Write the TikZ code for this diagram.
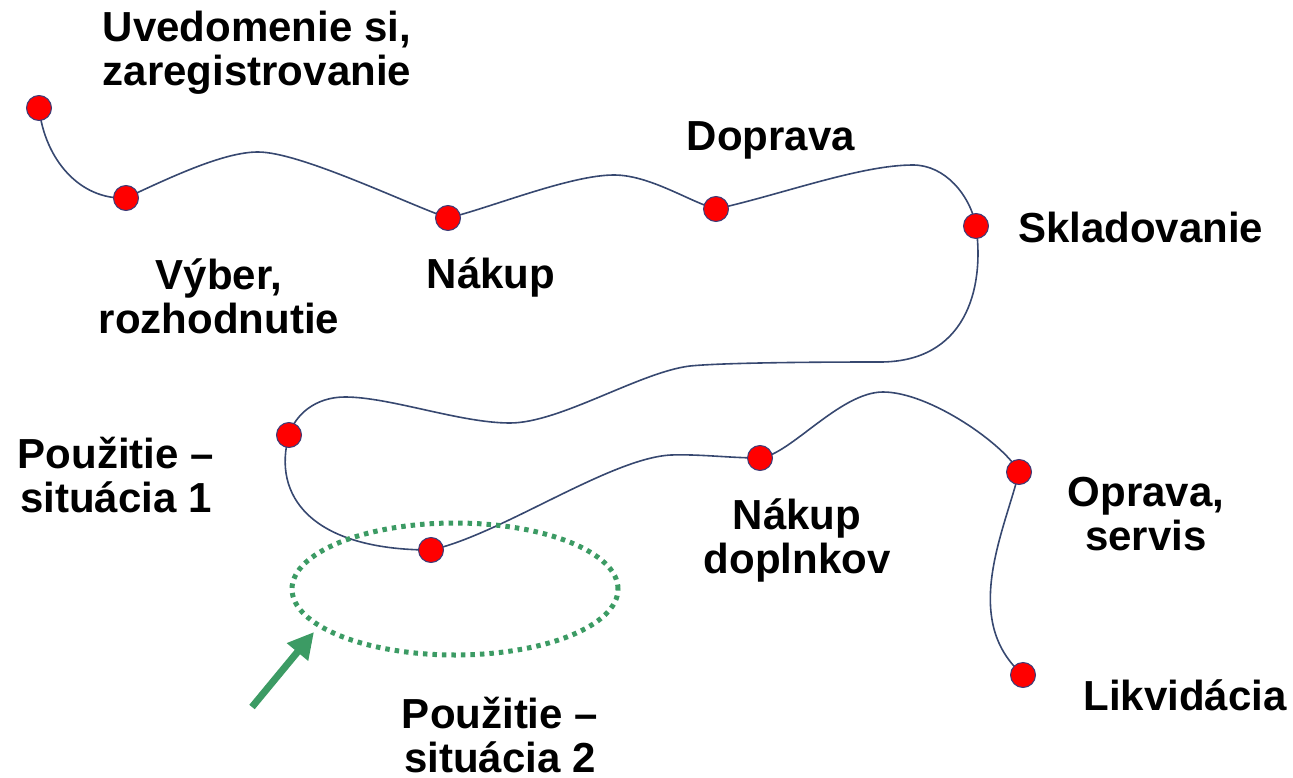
\documentclass[tikz,border=0pt]{standalone}
\usepackage{fontspec}
\setmainfont{Liberation Sans}
\usetikzlibrary{shapes.geometric,arrows.meta}
\definecolor{curvecol}{RGB}{55,72,112}
\definecolor{dotred}{RGB}{255,0,0}
\definecolor{dotedge}{RGB}{60,60,120}
\definecolor{mygreen}{RGB}{60,155,100}
\tikzset{
  curveline/.style={draw=curvecol, line width=1.6pt},
  dotnode/.style={circle, fill=dotred, draw=dotedge, line width=1pt, minimum size=25pt, inner sep=0pt},
  lbl/.style={font=\bfseries\fontsize{42}{44}\selectfont, align=center, inner sep=0pt, anchor=base},
  ringstyle/.style={ellipse, draw=mygreen, line width=5pt, dash pattern=on 4.5pt off 5pt, minimum width=326pt, minimum height=132pt, inner sep=0pt},
  pointer/.style={draw=mygreen, line width=7pt, -{Triangle[length=26pt,width=26pt]}}
}
\begin{document}
\begin{tikzpicture}[x=1pt,y=-1pt]
\useasboundingbox (0,0) rectangle (1293,778);
% dot positions
\coordinate (c1) at (39,108);
\coordinate (c2) at (126,198);
\coordinate (c3) at (448,218);
\coordinate (c4) at (716,209);
\coordinate (c5) at (976,226);
\coordinate (c6) at (289,435);
\coordinate (c7) at (431,550);
\coordinate (c8) at (760,458);
\coordinate (c9) at (1019,472);
\coordinate (c10) at (1023,675);
% waypoints of the curve
\coordinate (w2) at (258,152);
\coordinate (w3) at (614,175);
\coordinate (w4) at (913,165);
\coordinate (w5) at (880,362);
\coordinate (w5b) at (690,366);
\coordinate (w6) at (510,423);
\coordinate (w7) at (345,397);
\coordinate (w9) at (671,455);
\coordinate (w10) at (883,392);
% curve
\draw[curveline] (c1) .. controls (45,160) and (80,200) .. (c2)
 .. controls (175,175) and (225,152) .. (w2)
 .. controls (300,152) and (405,203) .. (c3)
 .. controls (490,208) and (570,175) .. (w3)
 .. controls (650,175) and (690,202) .. (c4)
 .. controls (780,195) and (860,165) .. (w4)
 .. controls (945,165) and (970,195) .. (c5)
 .. controls (985,290) and (965,362) .. (w5)
 .. controls (800,362) and (720,363) .. (w5b)
 .. controls (640,372) and (560,423) .. (w6)
 .. controls (460,423) and (390,397) .. (w7)
 .. controls (315,397) and (295,415) .. (c6)
 .. controls (272,495) and (310,550) .. (c7)
 .. controls (500,535) and (610,458) .. (w9)
 .. controls (700,454) and (730,458) .. (c8)
 .. controls (790,455) and (840,392) .. (w10)
 .. controls (930,392) and (1005,445) .. (c9)
 .. controls (1005,530) and (960,620) .. (c10);
% dots
\foreach \i in {1,...,10} { \node[dotnode] (d\i) at (c\i) {}; }
% ellipse and arrow
\node[ringstyle] (ring) at (455,589) {};
\coordinate (atail) at (252,707);
\coordinate (atip) at (314,632);
\draw[pointer] (atail) -- (atip);
% labels (base = baseline of the last line)
\node[lbl] (t1) at (257,86) {Uvedomenie si,\\zaregistrovanie};
\node[lbl] (t2) at (219,333) {Výber,\\rozhodnutie};
\node[lbl] (t3) at (491,288) {Nákup};
\node[lbl] (t4) at (771,151) {Doprava};
\node[lbl, anchor=base west] (t5) at (1018,243) {Skladovanie};
\node[lbl] (t6) at (116,512) {Použitie –\\situácia 1};
\node[lbl] (t7) at (797,573) {Nákup\\doplnkov};
\node[lbl] (t8) at (1146,550) {Oprava,\\servis};
\node[lbl] (t9) at (1185,710) {Likvidácia};
\node[lbl] (t10) at (500,772) {Použitie –\\situácia 2};
\end{tikzpicture}
\end{document}
